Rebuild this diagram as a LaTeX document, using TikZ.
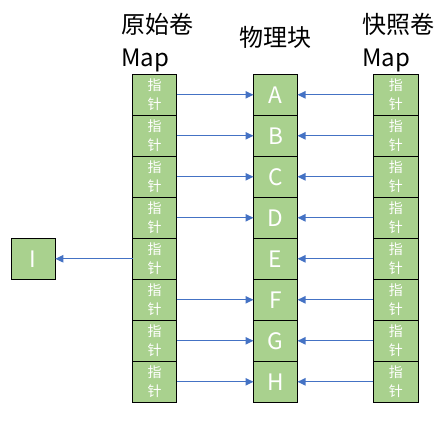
\documentclass[tikz,border=0pt]{standalone}
\usepackage{fontspec}
\setmainfont{Noto Sans CJK SC}
\usepackage{tikz}
\usetikzlibrary{positioning,arrows.meta}
\definecolor{cellgreen}{HTML}{A9D18E}
\definecolor{linkblue}{HTML}{4472C4}

\begin{document}
\begin{tikzpicture}[x=0.75pt,y=-0.75pt,
        cell/.style={draw=black,line width=0.9pt,fill=cellgreen,text=white,minimum width=33pt,minimum height=30.75pt,inner sep=0pt,outer sep=0pt},
        ptr/.style={cell,align=center,font=\fontsize{10.5}{14}\selectfont},
        blk/.style={cell,font=\fontsize{17}{20}\selectfont},
        link/.style={linkblue,line width=0.9pt,-{Triangle[length=6pt,width=5.5pt]}},
        title/.style={inner sep=0pt,align=left,font=\fontsize{18}{24.5}\selectfont}]
    \useasboundingbox (0,0) rectangle (442,423);

    \node[title,anchor=north west] (ttlo) at (121,13) {原始卷\\Map};
    \node[title] (ttlp) at (275.5,37.5) {物理块};
    \node[title,anchor=north west] (ttls) at (362,13) {快照卷\\Map};

    \foreach \k/\l in {1/A,2/B,3/C,4/D,5/E,6/F,7/G,8/H} {
        \node[ptr] (o\k) at (154.5,{94.8+41*(\k-1)}) {指\\针};
        \node[blk] (p\k) at (275.5,{94.8+41*(\k-1)}) {\l};
        \node[ptr,minimum width=33.75pt] (s\k) at (395.8,{94.8+41*(\k-1)}) {指\\针};
    }
    \node[blk] (i) at (33.3,258.8) {I};

    \foreach \k in {1,2,3,4,6,7,8}
        \draw[link] (o\k) -- (p\k);
    \foreach \k in {1,...,8}
        \draw[link] (s\k) -- (p\k);
    \draw[link] (o5) -- (i);
\end{tikzpicture}
\end{document}
